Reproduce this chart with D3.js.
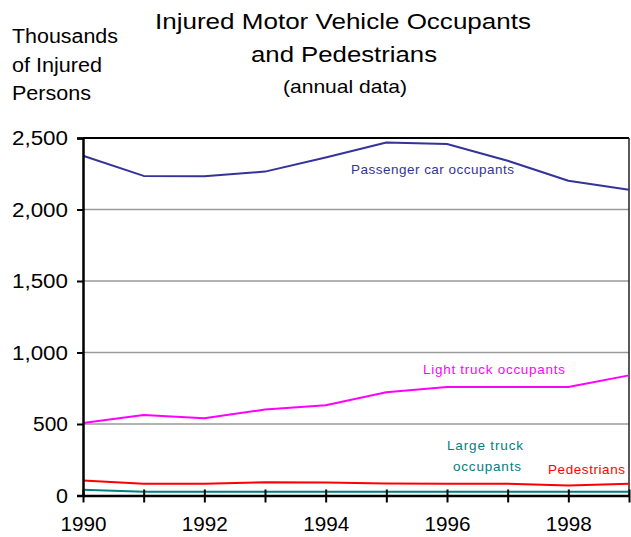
<!DOCTYPE html>
<html><head><meta charset="utf-8">
<script src="https://cdn.jsdelivr.net/npm/d3@7"></script>
<style>body{margin:0;background:#fff}svg{display:block;font-family:"Liberation Sans",Arial,sans-serif}</style>
</head><body><svg id="c" width="631" height="537"></svg>
<script>
const years = [1990,1991,1992,1993,1994,1995,1996,1997,1998,1999];
const passengerCar = [2376,2235,2232,2265,2364,2469,2458,2341,2201,2138];
const lightTruck = [507,563,540,601,631,722,758,758,758,840];
const largeTruck = [40,26,26,26,26,26,26,26,26,26];
const pedestrians = [105,82,82,92,91,84,82,82,70,82];
const yTicks = [0,500,1000,1500,2000,2500];
const xTickLabels = [1990,1992,1994,1996,1998];

const svg = d3.select("#c");
const x = d3.scaleLinear().domain([1990,1999]).range([83,629]);
const y = d3.scaleLinear().domain([0,2500]).range([495.5,138]);

// gridlines
svg.append("g").selectAll("line").data(yTicks.filter(d=>d>0 && d<2500)).join("line")
  .attr("x1",x(1990)).attr("x2",x(1999)).attr("y1",d=>y(d)).attr("y2",d=>y(d))
  .attr("stroke","#9a9a9a").attr("stroke-width",1.5);
// frame top/right
svg.append("line").attr("x1",x(1990)).attr("x2",x(1999)).attr("y1",y(2500)).attr("y2",y(2500)).attr("stroke","#000").attr("stroke-width",2);
svg.append("line").attr("x1",x(1999)).attr("x2",x(1999)).attr("y1",y(2500)).attr("y2",y(0)).attr("stroke","#222").attr("stroke-width",1.5);

// series
const series = [
  {v:largeTruck,c:"#008080"},
  {v:pedestrians,c:"#ff0000"},
  {v:lightTruck,c:"#ff00ff"},
  {v:passengerCar,c:"#333399"}
];
const line = d3.line().x((d,i)=>x(years[i])).y(d=>y(d));
series.forEach(s=>{
  svg.append("path").datum(s.v).attr("d",line).attr("fill","none")
    .attr("stroke",s.c).attr("stroke-width",2).attr("stroke-linejoin","round");
});

// y axis
const yAxis = d3.axisLeft(y).tickValues(yTicks).tickFormat(d3.format(",")).tickSize(6).tickPadding(9);
const gy = svg.append("g").attr("transform",`translate(${x(1990)},0)`).call(yAxis);
gy.select(".domain").attr("stroke","#000").attr("stroke-width",2.5);
gy.selectAll(".tick line").attr("stroke","#000").attr("stroke-width",2);
gy.selectAll(".tick text").attr("font-size",20.5).attr("fill","#000").attr("font-family","Liberation Sans, Arial, sans-serif")
  .attr("textLength",d=>d===0?12:(d<1000?35:56)).attr("lengthAdjust","spacingAndGlyphs");

// x axis
const xAxis = d3.axisBottom(x).tickValues(years).tickSize(6).tickSizeOuter(0)
  .tickFormat(d=>xTickLabels.includes(d)?String(d):"").tickPadding(15);
const gx = svg.append("g").attr("transform",`translate(0,${y(0)})`).call(xAxis);
gx.select(".domain").attr("stroke","#000").attr("stroke-width",2.5);
gx.selectAll(".tick line").attr("stroke","#000").attr("stroke-width",2).attr("y1",-6).attr("y2",7);
gx.selectAll(".tick text").attr("font-size",20.5).attr("fill","#000").attr("font-family","Liberation Sans, Arial, sans-serif")
  .filter(d=>xTickLabels.includes(d)).attr("textLength",46).attr("lengthAdjust","spacingAndGlyphs");

// titles
const t = svg.append("g").attr("text-anchor","middle").attr("fill","#000");
t.append("text").attr("x",343).attr("y",29).attr("font-size",22).attr("textLength",376).attr("lengthAdjust","spacingAndGlyphs").text("Injured Motor Vehicle Occupants");
t.append("text").attr("x",344).attr("y",62).attr("font-size",22).attr("textLength",186).attr("lengthAdjust","spacingAndGlyphs").text("and Pedestrians");
t.append("text").attr("x",345).attr("y",93).attr("font-size",18.5).attr("textLength",124).attr("lengthAdjust","spacingAndGlyphs").text("(annual data)");
const yl = svg.append("g").attr("font-size",20).attr("fill","#000");
yl.append("text").attr("x",12).attr("y",43).attr("textLength",106).attr("lengthAdjust","spacingAndGlyphs").text("Thousands");
yl.append("text").attr("x",12).attr("y",72).attr("textLength",90).attr("lengthAdjust","spacingAndGlyphs").text("of Injured");
yl.append("text").attr("x",12).attr("y",100).attr("textLength",79).attr("lengthAdjust","spacingAndGlyphs").text("Persons");

// series labels
const lab = (txt,xx,yy,c,len)=>svg.append("text").attr("x",xx).attr("y",yy).attr("fill",c)
  .attr("font-size",13.5).attr("textLength",len).attr("lengthAdjust","spacing").text(txt);
lab("Passenger car occupants",351,174,"#333399",163);
lab("Light truck occupants",423,374,"#ff00ff",142);
lab("Large truck",447,450,"#008080",76);
lab("occupants",453,471,"#008080",68);
lab("Pedestrians",548,474,"#ff0000",77);
</script></body></html>
